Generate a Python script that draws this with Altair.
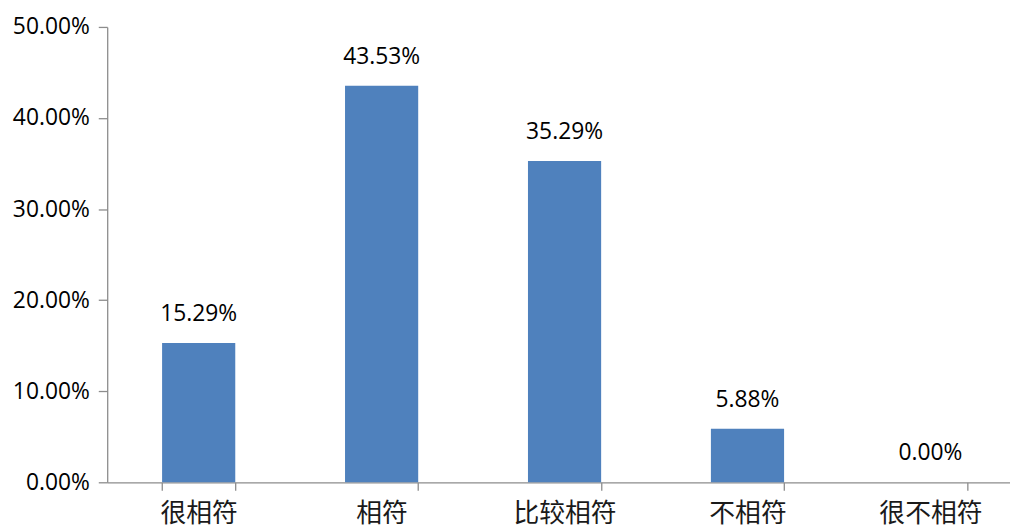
import altair as alt
import pandas as pd

categories = ["很相符", "相符", "比较相符", "不相符", "很不相符"]
values = [0.1529, 0.4353, 0.3529, 0.0588, 0.0]

df = pd.DataFrame({"cat": categories, "val": values})

xenc = alt.X("cat:N", sort=categories, title=None,
             scale=alt.Scale(paddingInner=0.6, paddingOuter=0.3),
             axis=alt.Axis(labelAngle=0, labelFont="Noto Sans CJK SC", labelFontSize=26,
                           labelColor="#1a1a1a", labelPadding=11, tickSize=8,
                           bandPosition=0, tickBand="extent",
                           domainColor="#8c8c8c", tickColor="#8c8c8c", domainWidth=1.3,
                           tickWidth=1.3, grid=False))
yenc = alt.Y("val:Q", title=None,
             scale=alt.Scale(domain=[0, 0.5], nice=False),
             axis=alt.Axis(values=[0, 0.1, 0.2, 0.3, 0.4, 0.5], format=".2%",
                           labelFont="Open Sans", labelFontSize=23, labelColor="#000000",
                           labelPadding=9, tickSize=9, domainColor="#8c8c8c",
                           tickColor="#8c8c8c", domainWidth=1.3, tickWidth=1.3, grid=False))

bars = alt.Chart(df).mark_bar(color="#4F81BD").encode(x=xenc, y=yenc)
labels = alt.Chart(df).mark_text(font="Open Sans", fontSize=23, color="#000000",
                                 baseline="alphabetic", dy=-22).encode(
    x=alt.X("cat:N", sort=categories), y="val:Q", text=alt.Text("val:Q", format=".2%"))

chart = (bars + labels).properties(
    width=922, height=459,
    autosize=alt.AutoSizeParams(type="none"),
    padding={"left": 100, "top": 17, "right": -12, "bottom": 47},
).configure_view(stroke=None)

chart.save("out.html", embed_options={"renderer": "svg", "actions": False})
